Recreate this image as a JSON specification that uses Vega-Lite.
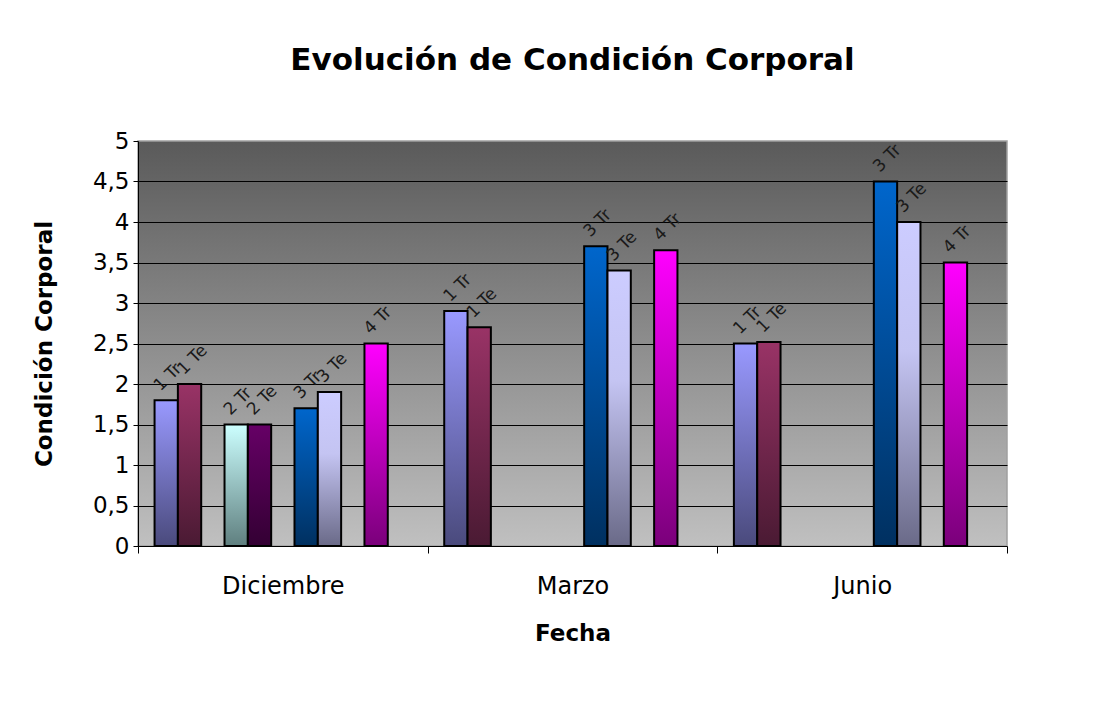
{
  "$schema": "https://vega.github.io/schema/vega-lite/v6.json",
  "autosize": {"type": "none"},
  "padding": {"left": 138, "top": 141, "right": 104, "bottom": 159},
  "width": 869,
  "height": 405,
  "background": "white",
  "title": {
    "text": "Evolución de Condición Corporal",
    "font": "DejaVu Sans",
    "fontSize": 31,
    "fontWeight": "bold",
    "color": "black",
    "anchor": "middle",
    "frame": "group",
    "baseline": "alphabetic",
    "offset": 29
  },
  "config": {
    "font": "DejaVu Sans",
    "view": {
      "fill": {"gradient": "linear", "x1": 0, "y1": 0, "x2": 0, "y2": 1, "stops": [{"offset": 0, "color": "#5a5a5a"}, {"offset": 1, "color": "#c0c0c0"}]},
      "stroke": "#a0a0a0",
      "strokeWidth": 1.5
    }
  },
  "data": {
    "values": [
      {"fecha": "Diciembre", "grupo": "1 Tr", "valor": 1.8},
      {"fecha": "Diciembre", "grupo": "1 Te", "valor": 2.0},
      {"fecha": "Diciembre", "grupo": "2 Tr", "valor": 1.5},
      {"fecha": "Diciembre", "grupo": "2 Te", "valor": 1.5},
      {"fecha": "Diciembre", "grupo": "3 Tr", "valor": 1.7},
      {"fecha": "Diciembre", "grupo": "3 Te", "valor": 1.9},
      {"fecha": "Diciembre", "grupo": "4 Tr", "valor": 2.5},
      {"fecha": "Marzo", "grupo": "1 Tr", "valor": 2.9},
      {"fecha": "Marzo", "grupo": "1 Te", "valor": 2.7},
      {"fecha": "Marzo", "grupo": "3 Tr", "valor": 3.7},
      {"fecha": "Marzo", "grupo": "3 Te", "valor": 3.4},
      {"fecha": "Marzo", "grupo": "4 Tr", "valor": 3.65},
      {"fecha": "Junio", "grupo": "1 Tr", "valor": 2.5},
      {"fecha": "Junio", "grupo": "1 Te", "valor": 2.52},
      {"fecha": "Junio", "grupo": "3 Tr", "valor": 4.5},
      {"fecha": "Junio", "grupo": "3 Te", "valor": 4.0},
      {"fecha": "Junio", "grupo": "4 Tr", "valor": 3.5}
    ]
  },
  "encoding": {
    "x": {
      "field": "fecha",
      "type": "nominal",
      "title": "Fecha",
      "scale": {"domain": ["Diciembre", "Marzo", "Junio"], "paddingInner": 0, "paddingOuter": 0},
      "axis": {
        "labelAngle": 0,
        "tickBand": "extent",
        "tickSize": 7,
        "tickColor": "black",
        "domainColor": "black",
        "labelFont": "DejaVu Sans",
        "labelFontSize": 24,
        "labelColor": "black",
        "labelPadding": 21,
        "titleFont": "DejaVu Sans",
        "titleFontSize": 23,
        "titleFontWeight": "bold",
        "titleColor": "black",
        "titlePadding": 24,
        "grid": false
      }
    },
    "xOffset": {
      "field": "grupo",
      "type": "nominal",
      "scale": {"domain": ["1 Tr", "1 Te", "_a", "2 Tr", "2 Te", "_b", "3 Tr", "3 Te", "_c", "4 Tr", "4 Te"], "paddingInner": 0, "paddingOuter": 0.71}
    },
    "y": {
      "field": "valor",
      "type": "quantitative",
      "title": "Condición Corporal",
      "scale": {"domain": [0, 5], "nice": false},
      "axis": {
        "values": [0, 0.5, 1, 1.5, 2, 2.5, 3, 3.5, 4, 4.5, 5],
        "labelExpr": "replace(format(datum.value, '~g'), '.', ',')",
        "grid": true,
        "gridColor": {"condition": {"test": "datum.value >= 5 || datum.value <= 0", "value": "transparent"}, "value": "black"},
        "gridWidth": 1,
        "tickSize": 5,
        "tickColor": "black",
        "domainColor": "black",
        "labelFont": "DejaVu Sans",
        "labelFontSize": 23,
        "labelColor": "black",
        "labelPadding": 4,
        "titleFont": "DejaVu Sans",
        "titleFontSize": 23,
        "titleFontWeight": "bold",
        "titleColor": "black",
        "titlePadding": 36
      }
    }
  },
  "layer": [
    {"transform": [{"filter": "datum.grupo === '1 Tr'"}], "mark": {"type": "bar", "stroke": "black", "strokeWidth": 2, "fill": {"gradient": "linear", "x1": 0, "y1": 0, "x2": 0, "y2": 1, "stops": [{"offset": 0, "color": "#9999ff"}, {"offset": 1, "color": "#4a4a7c"}]}}},
    {"transform": [{"filter": "datum.grupo === '1 Te'"}], "mark": {"type": "bar", "stroke": "black", "strokeWidth": 2, "fill": {"gradient": "linear", "x1": 0, "y1": 0, "x2": 0, "y2": 1, "stops": [{"offset": 0, "color": "#993366"}, {"offset": 1, "color": "#4a1a33"}]}}},
    {"transform": [{"filter": "datum.grupo === '2 Tr'"}], "mark": {"type": "bar", "stroke": "black", "strokeWidth": 2, "fill": {"gradient": "linear", "x1": 0, "y1": 0, "x2": 0, "y2": 1, "stops": [{"offset": 0, "color": "#ccffff"}, {"offset": 1, "color": "#5f7f7f"}]}}},
    {"transform": [{"filter": "datum.grupo === '2 Te'"}], "mark": {"type": "bar", "stroke": "black", "strokeWidth": 2, "fill": {"gradient": "linear", "x1": 0, "y1": 0, "x2": 0, "y2": 1, "stops": [{"offset": 0, "color": "#660066"}, {"offset": 1, "color": "#330033"}]}}},
    {"transform": [{"filter": "datum.grupo === '3 Tr'"}], "mark": {"type": "bar", "stroke": "black", "strokeWidth": 2, "fill": {"gradient": "linear", "x1": 0, "y1": 0, "x2": 0, "y2": 1, "stops": [{"offset": 0, "color": "#0066cc"}, {"offset": 1, "color": "#003060"}]}}},
    {"transform": [{"filter": "datum.grupo === '3 Te'"}], "mark": {"type": "bar", "stroke": "black", "strokeWidth": 2, "fill": {"gradient": "linear", "x1": 0, "y1": 0, "x2": 0, "y2": 1, "stops": [{"offset": 0, "color": "#ccccff"}, {"offset": 0.4, "color": "#c4c4f2"}, {"offset": 1, "color": "#6a6a88"}]}}},
    {"transform": [{"filter": "datum.grupo === '4 Tr'"}], "mark": {"type": "bar", "stroke": "black", "strokeWidth": 2, "fill": {"gradient": "linear", "x1": 0, "y1": 0, "x2": 0, "y2": 1, "stops": [{"offset": 0, "color": "#ff00ff"}, {"offset": 1, "color": "#7a007a"}]}}},
    {
      "mark": {"type": "text", "angle": 315, "align": "left", "baseline": "middle", "dx": 2, "dy": -15, "font": "DejaVu Sans", "fontSize": 17, "color": "#1a1a1a"},
      "encoding": {"text": {"field": "grupo"}}
    }
  ]
}
